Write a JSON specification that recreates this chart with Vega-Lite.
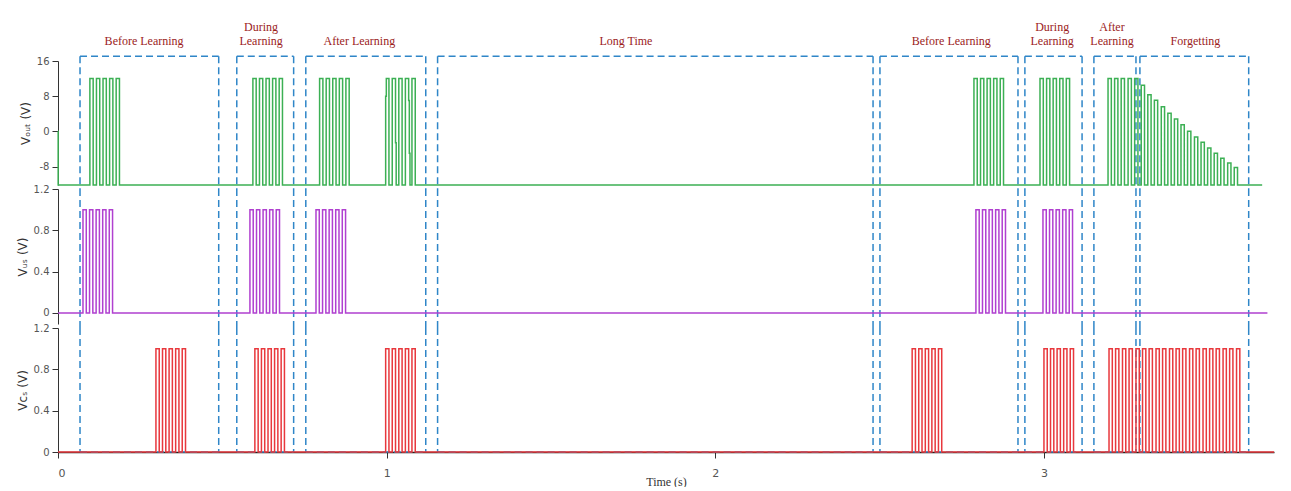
{
  "$schema": "https://vega.github.io/schema/vega-lite/v6.json",
  "padding": {"left": 16, "top": 21, "right": 5, "bottom": 0},
  "background": "white",
  "spacing": 4,
  "bounds": "flush",
  "config": {
    "view": {"stroke": null},
    "axis": {
      "grid": false,
      "domainColor": "#333",
      "tickColor": "#333",
      "labelColor": "#555",
      "labelFont": "DejaVu Sans",
      "labelFontSize": 10,
      "titleFont": "DejaVu Sans",
      "titleFontSize": 12,
      "titleFontWeight": "normal",
      "titleColor": "#333",
      "tickSize": 6,
      "labelPadding": 3,
      "titlePadding": 4
    }
  },
  "datasets": {
    "boxes": [
      {"start": 0.067, "end": 0.489, "lx": 0.262, "upper": "", "lower": "Before Learning"},
      {"start": 0.544, "end": 0.717, "lx": 0.618, "upper": "During", "lower": "Learning"},
      {"start": 0.754, "end": 1.119, "lx": 0.917, "upper": "", "lower": "After Learning"},
      {"start": 1.155, "end": 2.48, "lx": 1.728, "upper": "", "lower": "Long Time"},
      {"start": 2.501, "end": 2.921, "lx": 2.718, "upper": "", "lower": "Before Learning"},
      {"start": 2.942, "end": 3.116, "lx": 3.025, "upper": "During", "lower": "Learning"},
      {"start": 3.152, "end": 3.28, "lx": 3.207, "upper": "After", "lower": "Learning"},
      {"start": 3.292, "end": 3.623, "lx": 3.461, "upper": "", "lower": "Forgetting"}
    ],
    "out": [
      {"t": 0, "v": 0}, {"t": 0.0005, "v": -12.2},
      {"t": 0.097, "v": 12}, {"t": 0.107, "v": -12.2}, {"t": 0.117, "v": 12}, {"t": 0.127, "v": -12.2}, {"t": 0.137, "v": 12}, {"t": 0.147, "v": -12.2}, {"t": 0.157, "v": 12}, {"t": 0.167, "v": -12.2}, {"t": 0.177, "v": 12}, {"t": 0.187, "v": -12.2},
      {"t": 0.593, "v": 12}, {"t": 0.603, "v": -12.2}, {"t": 0.613, "v": 12}, {"t": 0.623, "v": -12.2}, {"t": 0.633, "v": 12}, {"t": 0.643, "v": -12.2}, {"t": 0.653, "v": 12}, {"t": 0.663, "v": -12.2}, {"t": 0.673, "v": 12}, {"t": 0.683, "v": -12.2},
      {"t": 0.796, "v": 12}, {"t": 0.806, "v": -12.2}, {"t": 0.816, "v": 12}, {"t": 0.826, "v": -12.2}, {"t": 0.836, "v": 12}, {"t": 0.846, "v": -12.2}, {"t": 0.856, "v": 12}, {"t": 0.866, "v": -12.2}, {"t": 0.876, "v": 12}, {"t": 0.886, "v": -12.2},
      {"t": 0.997, "v": 8}, {"t": 0.999, "v": 12}, {"t": 1.007, "v": -12.2}, {"t": 1.017, "v": 12}, {"t": 1.027, "v": -2.6}, {"t": 1.029, "v": -12.2}, {"t": 1.037, "v": 12}, {"t": 1.047, "v": -12.2}, {"t": 1.057, "v": 12}, {"t": 1.067, "v": 7}, {"t": 1.069, "v": -5}, {"t": 1.071, "v": -12.2}, {"t": 1.077, "v": 12}, {"t": 1.087, "v": -12.2},
      {"t": 2.787, "v": 12}, {"t": 2.797, "v": -12.2}, {"t": 2.807, "v": 12}, {"t": 2.817, "v": -12.2}, {"t": 2.827, "v": 12}, {"t": 2.837, "v": -12.2}, {"t": 2.847, "v": 12}, {"t": 2.857, "v": -12.2}, {"t": 2.867, "v": 12}, {"t": 2.877, "v": -12.2},
      {"t": 2.988, "v": 12}, {"t": 2.998, "v": -12.2}, {"t": 3.008, "v": 12}, {"t": 3.018, "v": -12.2}, {"t": 3.028, "v": 12}, {"t": 3.038, "v": -12.2}, {"t": 3.048, "v": 12}, {"t": 3.058, "v": -12.2}, {"t": 3.068, "v": 12}, {"t": 3.078, "v": -12.2},
      {"t": 3.195, "v": 12}, {"t": 3.205, "v": -12.2}, {"t": 3.215, "v": 12}, {"t": 3.225, "v": -12.2}, {"t": 3.235, "v": 12}, {"t": 3.245, "v": -12.2}, {"t": 3.256, "v": 12}, {"t": 3.266, "v": -12.2}, {"t": 3.276, "v": 12}, {"t": 3.286, "v": -12.2},
      {"t": 3.296, "v": 10.5}, {"t": 3.306, "v": -12.2}, {"t": 3.316, "v": 8.3}, {"t": 3.326, "v": -12.2}, {"t": 3.336, "v": 7.1}, {"t": 3.346, "v": -12.2}, {"t": 3.357, "v": 5.6}, {"t": 3.367, "v": -12.2}, {"t": 3.377, "v": 4.1}, {"t": 3.387, "v": -12.2},
      {"t": 3.397, "v": 2.8}, {"t": 3.407, "v": -12.2}, {"t": 3.417, "v": 1.5}, {"t": 3.427, "v": -12.2}, {"t": 3.437, "v": 0}, {"t": 3.447, "v": -12.2}, {"t": 3.458, "v": -1.3}, {"t": 3.468, "v": -12.2}, {"t": 3.478, "v": -2.5}, {"t": 3.488, "v": -12.2},
      {"t": 3.498, "v": -3.8}, {"t": 3.508, "v": -12.2}, {"t": 3.518, "v": -5.0}, {"t": 3.528, "v": -12.2}, {"t": 3.538, "v": -6.1}, {"t": 3.548, "v": -12.2}, {"t": 3.559, "v": -7.2}, {"t": 3.569, "v": -12.2}, {"t": 3.579, "v": -8.2}, {"t": 3.589, "v": -12.2},
      {"t": 3.664, "v": -12.2}
    ],
    "us": [
      {"t": 0, "v": 0},
      {"t": 0.076, "v": 1}, {"t": 0.086, "v": 0}, {"t": 0.096, "v": 1}, {"t": 0.106, "v": 0}, {"t": 0.116, "v": 1}, {"t": 0.126, "v": 0}, {"t": 0.136, "v": 1}, {"t": 0.146, "v": 0}, {"t": 0.156, "v": 1}, {"t": 0.166, "v": 0},
      {"t": 0.584, "v": 1}, {"t": 0.594, "v": 0}, {"t": 0.604, "v": 1}, {"t": 0.614, "v": 0}, {"t": 0.624, "v": 1}, {"t": 0.634, "v": 0}, {"t": 0.644, "v": 1}, {"t": 0.654, "v": 0}, {"t": 0.664, "v": 1}, {"t": 0.674, "v": 0},
      {"t": 0.785, "v": 1}, {"t": 0.795, "v": 0}, {"t": 0.805, "v": 1}, {"t": 0.815, "v": 0}, {"t": 0.825, "v": 1}, {"t": 0.835, "v": 0}, {"t": 0.845, "v": 1}, {"t": 0.855, "v": 0}, {"t": 0.865, "v": 1}, {"t": 0.875, "v": 0},
      {"t": 2.793, "v": 1}, {"t": 2.803, "v": 0}, {"t": 2.813, "v": 1}, {"t": 2.823, "v": 0}, {"t": 2.833, "v": 1}, {"t": 2.843, "v": 0}, {"t": 2.853, "v": 1}, {"t": 2.863, "v": 0}, {"t": 2.873, "v": 1}, {"t": 2.883, "v": 0},
      {"t": 2.997, "v": 1}, {"t": 3.007, "v": 0}, {"t": 3.017, "v": 1}, {"t": 3.027, "v": 0}, {"t": 3.037, "v": 1}, {"t": 3.047, "v": 0}, {"t": 3.057, "v": 1}, {"t": 3.067, "v": 0}, {"t": 3.077, "v": 1}, {"t": 3.087, "v": 0},
      {"t": 3.68, "v": 0}
    ],
    "cs": [
      {"t": 0, "v": 0},
      {"t": 0.298, "v": 1}, {"t": 0.308, "v": 0}, {"t": 0.318, "v": 1}, {"t": 0.328, "v": 0}, {"t": 0.338, "v": 1}, {"t": 0.348, "v": 0}, {"t": 0.358, "v": 1}, {"t": 0.368, "v": 0}, {"t": 0.378, "v": 1}, {"t": 0.388, "v": 0},
      {"t": 0.599, "v": 1}, {"t": 0.609, "v": 0}, {"t": 0.619, "v": 1}, {"t": 0.629, "v": 0}, {"t": 0.639, "v": 1}, {"t": 0.649, "v": 0}, {"t": 0.659, "v": 1}, {"t": 0.669, "v": 0}, {"t": 0.679, "v": 1}, {"t": 0.689, "v": 0},
      {"t": 0.997, "v": 1}, {"t": 1.007, "v": 0}, {"t": 1.017, "v": 1}, {"t": 1.027, "v": 0}, {"t": 1.037, "v": 1}, {"t": 1.047, "v": 0}, {"t": 1.057, "v": 1}, {"t": 1.067, "v": 0}, {"t": 1.077, "v": 1}, {"t": 1.087, "v": 0},
      {"t": 2.599, "v": 1}, {"t": 2.609, "v": 0}, {"t": 2.619, "v": 1}, {"t": 2.629, "v": 0}, {"t": 2.639, "v": 1}, {"t": 2.649, "v": 0}, {"t": 2.659, "v": 1}, {"t": 2.669, "v": 0}, {"t": 2.679, "v": 1}, {"t": 2.689, "v": 0},
      {"t": 3.0, "v": 1}, {"t": 3.01, "v": 0}, {"t": 3.02, "v": 1}, {"t": 3.03, "v": 0}, {"t": 3.04, "v": 1}, {"t": 3.05, "v": 0}, {"t": 3.06, "v": 1}, {"t": 3.07, "v": 0}, {"t": 3.08, "v": 1}, {"t": 3.09, "v": 0},
      {"t": 3.198, "v": 1}, {"t": 3.208, "v": 0}, {"t": 3.218, "v": 1}, {"t": 3.228, "v": 0}, {"t": 3.239, "v": 1}, {"t": 3.249, "v": 0}, {"t": 3.259, "v": 1}, {"t": 3.269, "v": 0}, {"t": 3.28, "v": 1}, {"t": 3.29, "v": 0},
      {"t": 3.3, "v": 1}, {"t": 3.31, "v": 0}, {"t": 3.32, "v": 1}, {"t": 3.33, "v": 0}, {"t": 3.341, "v": 1}, {"t": 3.351, "v": 0}, {"t": 3.361, "v": 1}, {"t": 3.371, "v": 0}, {"t": 3.382, "v": 1}, {"t": 3.392, "v": 0},
      {"t": 3.402, "v": 1}, {"t": 3.412, "v": 0}, {"t": 3.422, "v": 1}, {"t": 3.432, "v": 0}, {"t": 3.443, "v": 1}, {"t": 3.453, "v": 0}, {"t": 3.463, "v": 1}, {"t": 3.473, "v": 0}, {"t": 3.484, "v": 1}, {"t": 3.494, "v": 0},
      {"t": 3.504, "v": 1}, {"t": 3.514, "v": 0}, {"t": 3.524, "v": 1}, {"t": 3.534, "v": 0}, {"t": 3.545, "v": 1}, {"t": 3.555, "v": 0}, {"t": 3.565, "v": 1}, {"t": 3.575, "v": 0}, {"t": 3.586, "v": 1}, {"t": 3.596, "v": 0},
      {"t": 3.7, "v": 0}
    ]
  },
  "vconcat": [
    {
      "width": 1216,
      "height": 124,
      "layer": [
        {
          "data": {"name": "boxes"},
          "transform": [{"fold": ["start", "end"], "as": ["side", "edge"]}],
          "mark": {"type": "rule", "color": "#2f86c8", "strokeDash": [7, 4], "strokeWidth": 1.5},
          "encoding": {
            "x": {"field": "edge", "type": "quantitative", "scale": {"domain": [0, 3.7], "nice": false, "zero": false}, "axis": null},
            "y": {"datum": 17.1},
            "y2": {"datum": -13.1}
          }
        },
        {
          "data": {"name": "boxes"},
          "mark": {"type": "rule", "color": "#2f86c8", "strokeDash": [7, 4], "strokeWidth": 1.5},
          "encoding": {
            "x": {"field": "start", "type": "quantitative"},
            "x2": {"field": "end"},
            "y": {"datum": 17.1}
          }
        },
        {
          "data": {"name": "boxes"},
          "mark": {"type": "text", "baseline": "middle", "font": "Liberation Serif", "fontSize": 12, "color": "#9b1c1c"},
          "encoding": {
            "x": {"field": "lx", "type": "quantitative"},
            "y": {"datum": 23.7},
            "text": {"field": "upper"}
          }
        },
        {
          "data": {"name": "boxes"},
          "mark": {"type": "text", "baseline": "middle", "font": "Liberation Serif", "fontSize": 12, "color": "#9b1c1c"},
          "encoding": {
            "x": {"field": "lx", "type": "quantitative"},
            "y": {"datum": 20.6},
            "text": {"field": "lower"}
          }
        },
        {
          "data": {"name": "out"},
          "mark": {"type": "line", "interpolate": "step-after", "color": "#3cb054", "strokeWidth": 1.5},
          "encoding": {
            "x": {"field": "t", "type": "quantitative"},
            "y": {"field": "v", "type": "quantitative", "scale": {"domain": [-12.2, 16], "nice": false, "zero": false},
                  "axis": {"values": [-8, 0, 8, 16], "title": "Vₒᵤₜ (V)", "labelExpr": "format(datum.value, 'd') == '' ? '' : replace(format(datum.value, 'd'), '−', '-')"}}
          }
        }
      ]
    },
    {
      "width": 1216,
      "height": 135,
      "layer": [
        {
          "data": {"name": "boxes"},
          "transform": [{"fold": ["start", "end"], "as": ["side", "edge"]}],
          "mark": {"type": "rule", "color": "#2f86c8", "strokeDash": [7, 4], "strokeWidth": 1.5},
          "encoding": {
            "x": {"field": "edge", "type": "quantitative", "scale": {"domain": [0, 3.7], "nice": false, "zero": false}, "axis": null},
            "y": {"datum": 1.2},
            "y2": {"datum": -0.145}
          }
        },
        {
          "data": {"name": "us"},
          "mark": {"type": "line", "interpolate": "step-after", "color": "#b040d0", "strokeWidth": 1.5},
          "encoding": {
            "x": {"field": "t", "type": "quantitative"},
            "y": {"field": "v", "type": "quantitative", "scale": {"domain": [-0.1065, 1.2], "nice": false, "zero": false},
                  "axis": {"values": [0, 0.4, 0.8, 1.2], "title": "Vᵤₛ (V)", "labelExpr": "datum.value == 0 ? '0' : format(datum.value, '.1f')"}}
          }
        }
      ]
    },
    {
      "width": 1216,
      "height": 124,
      "layer": [
        {
          "data": {"name": "boxes"},
          "transform": [{"fold": ["start", "end"], "as": ["side", "edge"]}],
          "mark": {"type": "rule", "color": "#2f86c8", "strokeDash": [7, 4], "strokeWidth": 1.5},
          "encoding": {
            "x": {"field": "edge", "type": "quantitative", "scale": {"domain": [0, 3.7], "nice": false, "zero": false},
                  "axis": {"values": [0, 1, 2, 3], "format": "d", "title": "Time (s)", "titleFont": "Liberation Serif", "titleFontSize": 12, "titlePadding": -2, "labelPadding": 9, "labelFontSize": 11, "domainColor": "#222", "domainWidth": 1.5}},
            "y": {"datum": 1.2},
            "y2": {"datum": 0}
          }
        },
        {
          "data": {"name": "boxes"},
          "mark": {"type": "rule", "color": "#2f86c8", "strokeDash": [7, 4], "strokeWidth": 1.5},
          "encoding": {
            "x": {"field": "start", "type": "quantitative"},
            "x2": {"field": "end"},
            "y": {"datum": 0}
          }
        },
        {
          "data": {"name": "cs"},
          "mark": {"type": "line", "interpolate": "step-after", "color": "#e8383d", "strokeWidth": 1.5},
          "encoding": {
            "x": {"field": "t", "type": "quantitative"},
            "y": {"field": "v", "type": "quantitative", "scale": {"domain": [0, 1.2], "nice": false, "zero": false},
                  "axis": {"values": [0, 0.4, 0.8, 1.2], "title": "Vᴄₛ (V)", "labelExpr": "datum.value == 0 ? '0' : format(datum.value, '.1f')"}}
          }
        }
      ]
    }
  ]
}
